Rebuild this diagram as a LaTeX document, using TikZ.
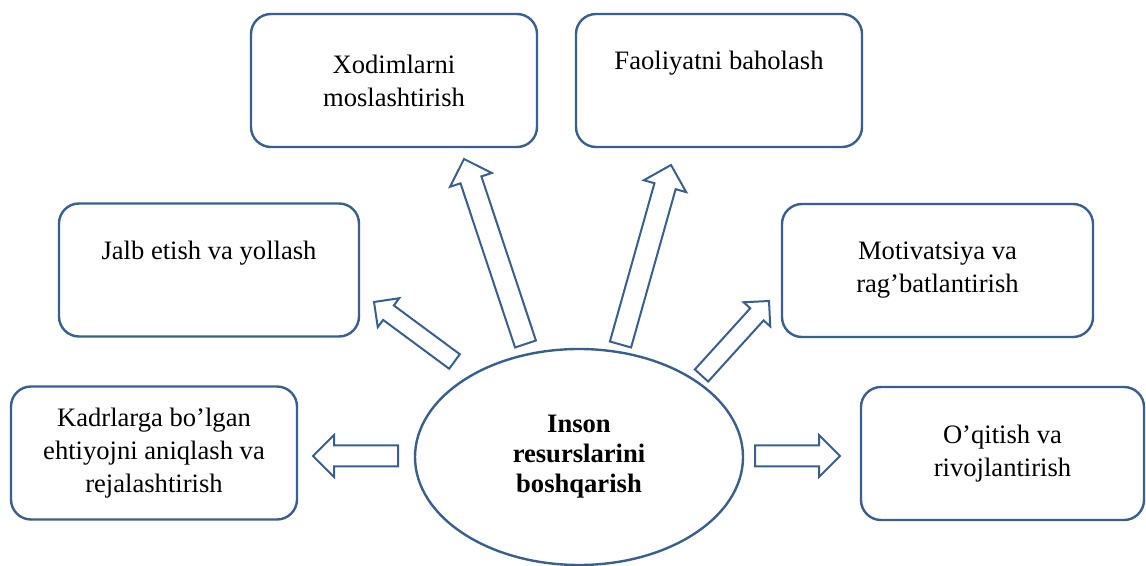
\documentclass[tikz,border=0pt]{standalone}
\usepackage{fontspec}
\setmainfont{Liberation Serif}
\usetikzlibrary{shapes.geometric, calc}
\definecolor{boxblue}{HTML}{3A5F8F}

% hollow block arrow: tail, tip, shaft half width, head half width
\newcommand{\hollowarrow}[4]{%
  \coordinate (hb) at ($(#2)!#4!(#1)$);
  \draw[arrowline] ($(#1)!#3!90:(#2)$) -- ($(hb)!#3!90:(#2)$)
    -- ($(hb)!#4!90:(#2)$) -- (#2) -- ($(hb)!#4!-90:(#2)$)
    -- ($(hb)!#3!-90:(#2)$) -- ($(#1)!#3!-90:(#2)$) -- cycle;
}

\begin{document}
\begin{tikzpicture}[x=0.5pt,y=-0.5pt,
    box/.style={draw=boxblue, line width=1.2pt, rounded corners=10pt,
      minimum height=66.5pt, align=center, inner sep=0pt,
      font=\fontsize{13.3}{16.5}\selectfont},
    topline/.style={text depth=20pt},
    hub/.style={draw=boxblue, line width=1.2pt, ellipse, minimum width=164pt,
      minimum height=108pt, inner sep=0pt, align=center,
      font=\fontsize{13.3}{15}\selectfont\bfseries},
    arrowline/.style={draw=boxblue, line width=1pt, line join=miter}]
  \useasboundingbox (0,0) rectangle (1146,566);

  \node[hub] (hrm) at (579,457) {Inson\\resurslarini\\boshqarish};

  \node[box, minimum width=143pt] (xodim) at (394,80.5) {Xodimlarni\\moslashtirish};
  \node[box, topline, minimum width=143pt] (baho) at (719,80.5) {Faoliyatni baholash};
  \node[box, topline, minimum width=150pt] (jalb) at (209,270) {Jalb etish va yollash};
  \node[box, minimum width=155.5pt] (motiv) at (937.5,270.5) {Motivatsiya va\\rag’batlantirish};
  \node[box, minimum width=143pt] (kadr) at (154,453) {Kadrlarga bo’lgan\\ehtiyojni aniqlash va\\rejalashtirish};
  \node[box, minimum width=141.5pt] (oqit) at (1002.5,453.5) {O’qitish va\\rivojlantirish};

  % arrow ends
  \coordinate (kadrT) at (398,456);  \coordinate (kadrH) at (313,456);
  \coordinate (oqitT) at (755,456);  \coordinate (oqitH) at (840,456);
  \coordinate (jalbT) at (454.5,361.5); \coordinate (jalbH) at (374,302);
  \coordinate (xodimT) at (525.5,344); \coordinate (xodimH) at (464,159);
  \coordinate (bahoT) at (620.5,344.5); \coordinate (bahoH) at (671,165);
  \coordinate (motivT) at (701.5,375.5); \coordinate (motivH) at (769,301);

  \hollowarrow{kadrT}{kadrH}{5.25pt}{10.5pt}
  \hollowarrow{oqitT}{oqitH}{5.25pt}{10.5pt}
  \hollowarrow{jalbT}{jalbH}{4.5pt}{9pt}
  \hollowarrow{xodimT}{xodimH}{5.5pt}{11pt}
  \hollowarrow{bahoT}{bahoH}{5.5pt}{11pt}
  \hollowarrow{motivT}{motivH}{4.5pt}{9pt}
\end{tikzpicture}
\end{document}
